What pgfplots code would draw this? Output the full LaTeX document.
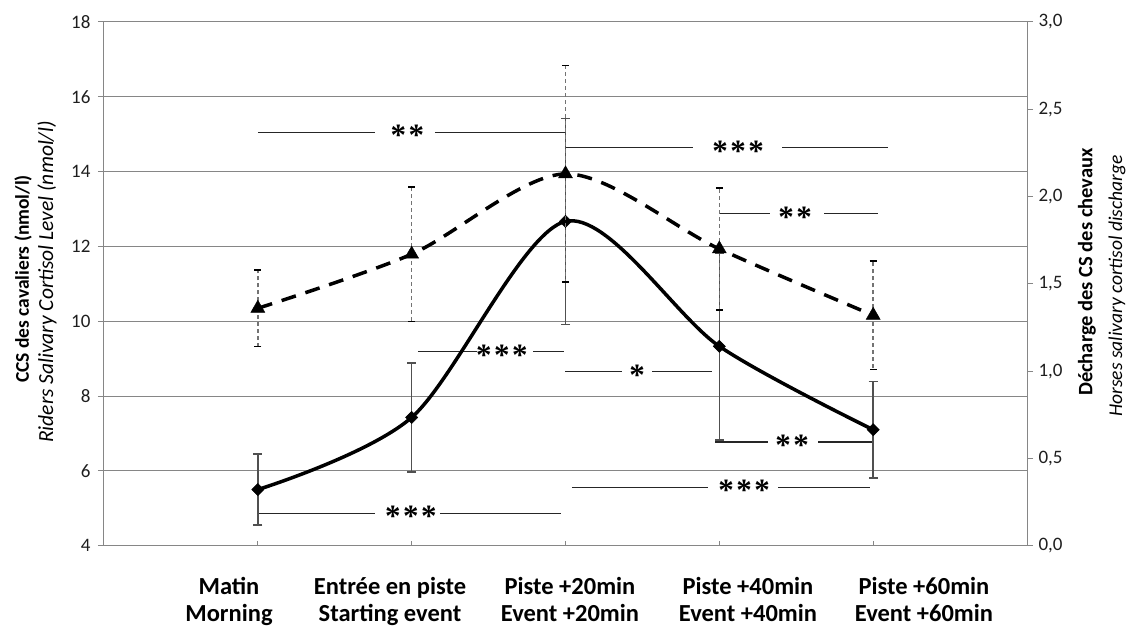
\documentclass[border=0pt]{standalone}
\usepackage{pgfplots}
\pgfplotsset{compat=1.18}
\usepackage{pgfplotstable}
\usepackage{fontspec}
\setmainfont{Carlito}
\newfontfamily\astfont{Liberation Serif}

\pgfplotstableread{
x y err
0 5.50 0.95
1 7.43 1.46
2 12.67 2.75
3 9.33 2.50
4 7.10 1.29
}\riders
\pgfplotstableread{
x y err
0 1.36 0.22
1 1.67 0.385
2 2.13 0.62
3 1.70 0.35
4 1.32 0.31
}\horses

\definecolor{axgray}{RGB}{134,134,134}
\definecolor{errgray}{RGB}{80,80,80}
\definecolor{txt}{RGB}{30,30,30}

\newcommand{\sig}[2]{\node[font=\astfont\bfseries\fontsize{31}{31}\selectfont, anchor=base, yshift=-13.5pt, inner sep=0pt] at (axis cs:#1) {#2};}

\begin{document}
\begin{tikzpicture}
\begin{axis}[
  at={(0pt,0pt)}, anchor=south west,
  scale only axis, width=923pt, height=523.7pt,
  xmin=-1, xmax=5, ymin=4, ymax=18,
  ytick={4,6,...,18},
  xtick=\empty,
  ymajorgrids, grid style={axgray, line width=1pt},
  axis line style={axgray, line width=1pt},
  ytick pos=left, tick align=outside,
  major tick length=6pt,
  tick style={axgray, line width=1pt},
  /pgf/number format/assume math mode=true,
  yticklabel style={font=\fontsize{19}{19}\selectfont, text=txt, xshift=-4pt},
  clip=false,
]
% x tick marks (inside)
\pgfplotsinvokeforeach{0,...,4}{\draw[axgray, line width=1pt] (axis cs:#1,4) -- ++(0pt,5pt);}
% significance brackets
\begin{scope}[line width=1.4pt, black!85]
\draw (axis cs:0,15.05) -- (axis cs:0.761,15.05);
\draw (axis cs:1.151,15.05) -- (axis cs:2.003,15.05);
\draw (axis cs:2.003,14.645) -- (axis cs:2.829,14.645);
\draw (axis cs:3.408,14.645) -- (axis cs:4.098,14.645);
\draw (axis cs:3.005,12.88) -- (axis cs:3.330,12.88);
\draw (axis cs:3.681,12.88) -- (axis cs:4.033,12.88);
\draw (axis cs:1.041,9.185) -- (axis cs:1.424,9.185);
\draw (axis cs:1.789,9.185) -- (axis cs:1.990,9.185);
\draw (axis cs:1.997,8.65) -- (axis cs:2.367,8.65);
\draw (axis cs:2.563,8.65) -- (axis cs:2.953,8.65);
\draw (axis cs:2.972,6.776) -- (axis cs:3.317,6.776);
\draw (axis cs:3.642,6.776) -- (axis cs:3.993,6.776);
\draw (axis cs:2.042,5.558) -- (axis cs:2.927,5.558);
\draw (axis cs:3.382,5.558) -- (axis cs:3.980,5.558);
\draw (axis cs:0,4.862) -- (axis cs:0.761,4.862);
\draw (axis cs:1.184,4.862) -- (axis cs:1.971,4.862);
\end{scope}
\sig{0.972,15.05}{*\kern2.5pt*}
\sig{3.122,14.645}{*\kern2.5pt*\kern2.5pt*}
\sig{3.493,12.88}{*\kern2.5pt*}
\sig{1.587,9.185}{*\kern2.5pt*\kern2.5pt*}
\sig{2.465,8.65}{*}
\sig{3.473,6.776}{*\kern2.5pt*}
\sig{3.161,5.558}{*\kern2.5pt*\kern2.5pt*}
\sig{0.995,4.862}{*\kern2.5pt*\kern2.5pt*}
% riders
\addplot[black, line width=3.5pt, smooth, tension=0.5,
  mark=square*, mark size=4.3pt, mark options={rotate=45, solid, fill=black, line width=0.5pt},
  error bars/.cd, y dir=both, y explicit,
  error bar style={errgray, line width=1.5pt, solid},
  error mark options={rotate=90, mark size=4.5pt, errgray, line width=1.5pt}]
  table[x=x, y=y, y error=err] {\riders};
\end{axis}
\begin{axis}[
  at={(0pt,0pt)}, anchor=south west,
  scale only axis, width=923pt, height=523.7pt,
  xmin=-1, xmax=5, ymin=0, ymax=3,
  ytick={0,0.5,...,3},
  axis x line=none, axis y line*=right,
  axis line style={axgray, line width=1pt},
  tick align=outside, major tick length=6pt,
  tick style={axgray, line width=1pt},
  /pgf/number format/.cd, fixed, fixed zerofill, precision=1, use comma, assume math mode=true,
  /pgfplots/.cd,
  yticklabel style={font=\fontsize{19}{19}\selectfont, text=txt, xshift=2pt},
  clip=false,
]
\addplot[black, line width=3.5pt, dash pattern=on 15pt off 10pt, smooth, tension=0.5,
  mark=triangle*, mark size=8pt, mark options={solid, fill=black, line width=0.5pt},
  error bars/.cd, y dir=both, y explicit,
  error bar style={black!55, line width=1.6pt, dash pattern=on 4pt off 3pt},
  error mark options={rotate=90, mark size=3.5pt, black, line width=1.4pt, solid}]
  table[x=x, y=y, y error=err] {\horses};
\end{axis}
\begin{scope}[x=1pt, y=-1pt, shift={(-104pt,545.7pt)}]
\path (0,0) rectangle (1131,630);
\node[rotate=90, font=\bfseries\fontsize{19.5}{19.5}\selectfont, text=black] at (23,279) {CCS des cavaliers (nmol/l)};
\node[rotate=90, font=\itshape\fontsize{21.5}{21.5}\selectfont, text=black] at (47,282) {Riders Salivary Cortisol Level (nmol/l)};
\node[rotate=90, font=\bfseries\fontsize{20.5}{20.5}\selectfont, text=black] at (1087,272) {Décharge des CS des chevaux};
\node[rotate=90, font=\itshape\fontsize{19.5}{19.5}\selectfont, text=black] at (1117,286) {Horses salivary cortisol discharge};
\foreach \cx/\la/\lb in {229/Matin/Morning, 390/Entrée en piste/Starting event, 570/Piste +20min/Event +20min, 748/Piste +40min/Event +40min, 924/Piste +60min/Event +60min}{
  \node[font=\bfseries\fontsize{24.5}{24.5}\selectfont, anchor=base, inner sep=0pt] at (\cx,594) {\la};
  \node[font=\bfseries\fontsize{24.5}{24.5}\selectfont, anchor=base, inner sep=0pt] at (\cx,621) {\lb};
}
\end{scope}
\end{tikzpicture}
\end{document}
